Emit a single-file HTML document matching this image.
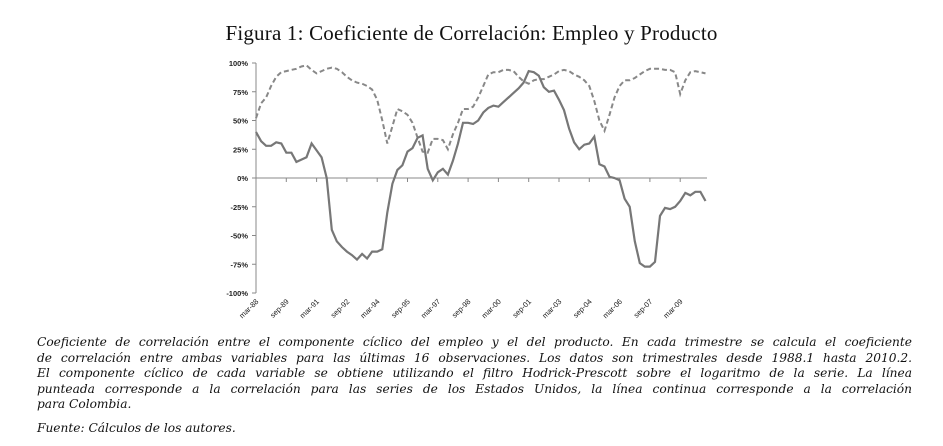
<!DOCTYPE html>
<html><head><meta charset="utf-8"><style>
body{margin:0;background:#fff;width:943px;height:446px;overflow:hidden;position:relative;font-family:"Liberation Serif",serif}
.t{position:absolute;left:0;width:943px;top:21px;text-align:center;font-size:21px;color:#111;letter-spacing:0.2px}
.c{position:absolute;left:37px;width:875px;font-family:"DejaVu Serif",serif;font-style:italic;font-size:12.2px;color:#111;white-space:nowrap;text-align:justify;text-align-last:justify;line-height:15.5px}
svg{position:absolute;left:0;top:0}
</style></head><body>
<div class="t">Figura 1: Coeficiente de Correlación: Empleo y Producto</div>
<svg id="s" width="943" height="446" font-family="Liberation Sans, sans-serif"></svg>
<div class="c" style="top:335px">Coeficiente de correlación entre el componente cíclico del empleo y el del producto. En cada trimestre se calcula el coeficiente</div>
<div class="c" style="top:350.5px">de correlación entre ambas variables para las últimas 16 observaciones. Los datos son trimestrales desde 1988.1 hasta 2010.2.</div>
<div class="c" style="top:366px">El componente cíclico de cada variable se obtiene utilizando el filtro Hodrick-Prescott sobre el logaritmo de la serie. La línea</div>
<div class="c" style="top:381.5px">punteada corresponde a la correlación para las series de los Estados Unidos, la línea continua corresponde a la correlación</div>
<div class="c" style="top:397px;text-align-last:left">para Colombia.</div>
<div class="c" style="top:421px;text-align-last:left">Fuente: Cálculos de los autores.</div>
<script>
var co=[40,32,28,28,31,30,22,22,14,16,18,30,24,18,0,-45,-55,-60,-64,-67,-71,-66,-70,-64,-64,-62,-30,-5,7,11,23,26,35,37,8,-2,5,8,3,15,30,48,48,47,50,57,61,63,62,66,70,74,78,83,93,92,89,79,75,76,68,59,43,31,25,29,30,36,12,10,1,0,-2,-18,-25,-55,-74,-77,-77,-73,-33,-26,-27,-25,-20,-13,-15,-12,-12,-20];
var us=[52,65,70,80,88,92,93,94,95,97,98,94,91,93,95,96,95,92,88,85,83,82,80,77,68,50,30,45,60,58,55,48,35,23,22,34,34,33,25,38,48,60,60,62,70,80,90,92,92,94,94,93,88,84,82,85,86,86,88,90,93,94,93,90,88,85,80,67,50,41,55,70,80,85,85,87,90,93,95,95,95,94,94,92,73,85,92,93,92,91];
var x0=256,dx=5.05,y0=178,k=1.15,s='';
function X(i){return x0+i*dx}function Y(v){return y0-v*k}
s+='<line x1="256" y1="63" x2="256" y2="293" stroke="#888" stroke-width="1"/>';
s+='<line x1="256" y1="178" x2="707" y2="178" stroke="#888" stroke-width="1"/>';
for(var v=-100;v<=100;v+=25){s+='<line x1="252" x2="256" y1="'+Y(v)+'" y2="'+Y(v)+'" stroke="#888"/>';
s+='<text x="248" y="'+(Y(v)+3)+'" font-size="7.5" font-weight="bold" fill="#222" text-anchor="end">'+v+'%</text>';}
var lb=['mar-88','sep-89','mar-91','sep-92','mar-94','sep-95','mar-97','sep-98','mar-00','sep-01','mar-03','sep-04','mar-06','sep-07','mar-09'];
for(var i=0;i<15;i++){var x=X(i*6);s+='<line x1="'+x+'" x2="'+x+'" y1="178" y2="182" stroke="#888"/>';
s+='<text transform="translate('+(x+3)+',302) rotate(-45)" font-size="7.5" fill="#222" text-anchor="end">'+lb[i]+'</text>';}
function pl(a){return a.map(function(v,i){return X(i).toFixed(1)+','+Y(v).toFixed(1)}).join(' ')}
s+='<polyline points="'+pl(us)+'" fill="none" stroke="#888" stroke-width="2" stroke-dasharray="5,3"/>';
s+='<polyline points="'+pl(co)+'" fill="none" stroke="#777" stroke-width="2.2"/>';
document.getElementById('s').innerHTML=s;
</script>
</body></html>
